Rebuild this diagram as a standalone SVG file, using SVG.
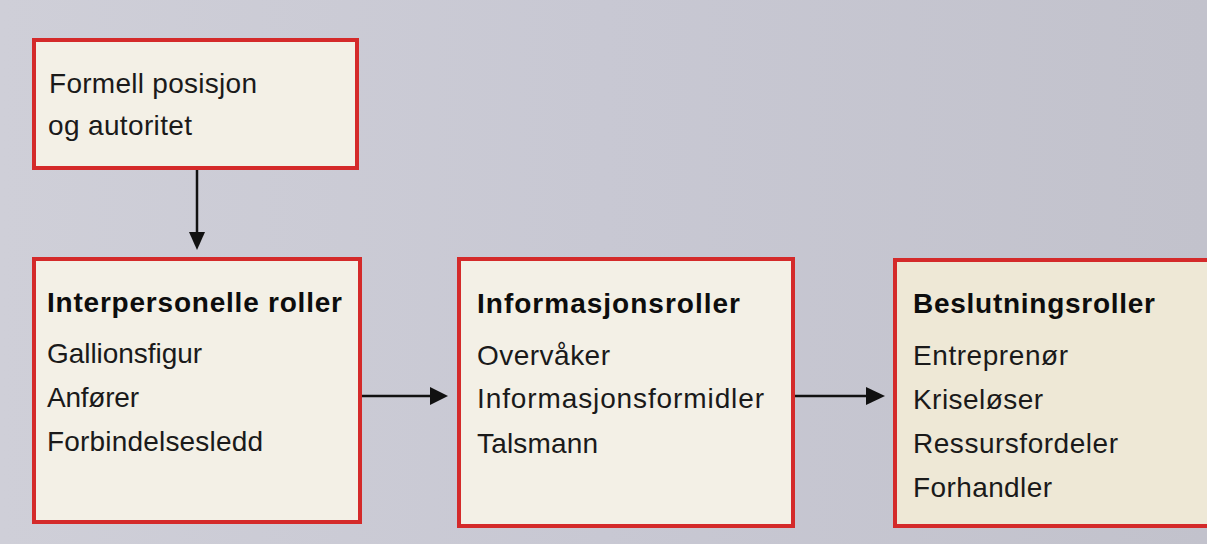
<svg xmlns="http://www.w3.org/2000/svg" width="1207" height="544" viewBox="0 0 1207 544">
<style>
.box{fill:#f3f0e6;stroke:#d42a2a;stroke-width:4}
.t{font-family:"Liberation Sans",Arial,sans-serif;font-size:28px;fill:#1a1a1a}
.b{font-weight:bold;fill:#0d0d0d}
.c{stroke:#111;stroke-width:2.5;fill:none}
</style>
<defs>
<linearGradient id="bg" x1="0" y1="0" x2="1" y2="0">
<stop offset="0" stop-color="#cfcfd8"/>
<stop offset="0.5" stop-color="#c8c8d3"/>
<stop offset="1" stop-color="#c2c2cc"/>
</linearGradient>
</defs>
<rect x="0" y="0" width="1207" height="544" fill="url(#bg)"/>
<g id="connectors">
<line class="c" x1="197" y1="168" x2="197" y2="234"/>
<path d="M189,232 L197,250 L205,232 z" fill="#111"/>
<line class="c" x1="360" y1="396" x2="432" y2="396"/>
<path d="M430,387 L448,396 L430,405 z" fill="#111"/>
<line class="c" x1="793" y1="396" x2="868" y2="396"/>
<path d="M866,387 L885,396 L866,405 z" fill="#111"/>
</g>
<g id="formell">
<rect class="box" x="34" y="40" width="323" height="128"/>
<text class="t" x="49" y="93" textLength="208" lengthAdjust="spacing">Formell posisjon</text>
<text class="t" x="48" y="135" textLength="144" lengthAdjust="spacing">og autoritet</text>
</g>
<g id="interpersonelle">
<rect class="box" x="34" y="259" width="326" height="263"/>
<text class="t b" x="47" y="312" textLength="295" lengthAdjust="spacing">Interpersonelle roller</text>
<text class="t" x="47" y="363" textLength="155" lengthAdjust="spacing">Gallionsfigur</text>
<text class="t" x="47" y="407" textLength="92" lengthAdjust="spacing">Anfører</text>
<text class="t" x="47" y="451" textLength="216" lengthAdjust="spacing">Forbindelsesledd</text>
</g>
<g id="informasjon">
<rect class="box" x="459" y="259" width="334" height="267"/>
<text class="t b" x="477" y="313" textLength="263" lengthAdjust="spacing">Informasjonsroller</text>
<text class="t" x="477" y="365" textLength="133" lengthAdjust="spacing">Overvåker</text>
<text class="t" x="477" y="408" textLength="287" lengthAdjust="spacing">Informasjonsformidler</text>
<text class="t" x="477" y="453" textLength="121" lengthAdjust="spacing">Talsmann</text>
</g>
<g id="beslutning">
<rect class="box" x="895" y="260" width="330" height="266" style="fill:#eee8d6"/>
<text class="t b" x="913" y="313" textLength="242" lengthAdjust="spacing">Beslutningsroller</text>
<text class="t" x="913" y="365" textLength="155" lengthAdjust="spacing">Entreprenør</text>
<text class="t" x="913" y="409" textLength="130" lengthAdjust="spacing">Kriseløser</text>
<text class="t" x="913" y="453" textLength="205" lengthAdjust="spacing">Ressursfordeler</text>
<text class="t" x="913" y="497" textLength="139" lengthAdjust="spacing">Forhandler</text>
</g>
</svg>
